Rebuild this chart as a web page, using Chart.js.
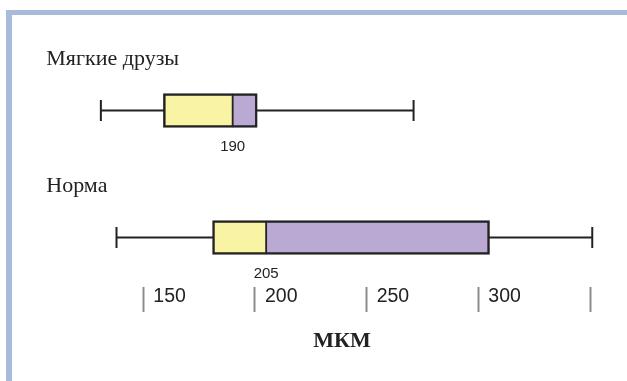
<!DOCTYPE html>
<html lang="ru">
<head>
<meta charset="utf-8">
<title>Толщина волос, мкм</title>
<script src="https://cdn.jsdelivr.net/npm/chart.js@4/dist/chart.umd.min.js"></script>
<style>
  html, body { margin: 0; padding: 0; background: #fff; }
  body { width: 627px; height: 381px; position: relative; overflow: hidden; }
  .frame {
    position: absolute; left: 6px; top: 10px; right: 0; bottom: 0;
    border-top: 5px solid #a9bbda; border-left: 6px solid #a9bbda;
  }
  #chart { position: absolute; left: 0; top: 0; }
</style>
</head>
<body>
<div class="frame"></div>
<canvas id="chart" width="627" height="381"></canvas>
<script>
const groups = ['Мягкие друзы', 'Норма'];
const whiskerLow = [131, 138];
const q1 = [159, 181];
const medians = [190, 205];
const q3 = [201, 305];
const whiskerHigh = [271, 351];
const tickValues = [150, 200, 250, 300, 350];
const tickLabels = ['150', '200', '250', '300', ''];
const axisTitle = 'МКМ';

const ink = '#222';

// whiskers under the boxes, group names and median values as text
const boxDecor = {
    id: 'boxDecor',
    beforeDatasetsDraw(chart) {
        const { ctx, scales: { x, y } } = chart;
        ctx.save();
        ctx.strokeStyle = ink;
        ctx.lineWidth = 2;
        groups.forEach((g, i) => {
            const cy = y.getPixelForValue(i + 1);
            const x0 = x.getPixelForValue(whiskerLow[i]);
            const x1 = x.getPixelForValue(whiskerHigh[i]);
            ctx.beginPath();
            ctx.moveTo(x0, cy);
            ctx.lineTo(x1, cy);
            ctx.moveTo(x0, cy - 10.5);
            ctx.lineTo(x0, cy + 10.5);
            ctx.moveTo(x1, cy - 10.5);
            ctx.lineTo(x1, cy + 10.5);
            ctx.stroke();
        });
        ctx.restore();
    },
    afterDatasetsDraw(chart) {
        const { ctx, chartArea, scales: { x, y } } = chart;
        ctx.save();
        ctx.fillStyle = ink;
        groups.forEach((g, i) => {
            const cy = y.getPixelForValue(i + 1);
            ctx.font = '22px "Liberation Serif", "Times New Roman", serif';
            ctx.textAlign = 'left';
            ctx.textBaseline = 'alphabetic';
            ctx.fillText(g, chartArea.left - 30, cy - 45);

            ctx.font = '15px "Liberation Sans", Arial, sans-serif';
            ctx.textAlign = 'center';
            ctx.fillText(String(medians[i]), x.getPixelForValue(medians[i]), cy + 40.5);
        });
        ctx.restore();
    }
};

new Chart(document.getElementById('chart'), {
    type: 'bar',
    data: {
        datasets: [{
            label: 'Q1 – медиана',
            data: groups.map((g, i) => ({ x: [q1[i], medians[i]], y: i + 1 })),
            backgroundColor: '#f9f4a3',
            borderColor: ink,
            borderWidth: { top: 2.5, bottom: 2.5, left: 2.5, right: 1.25 },
            borderSkipped: false,
            barThickness: 34,
            grouped: false
        }, {
            label: 'медиана – Q3',
            data: groups.map((g, i) => ({ x: [medians[i], q3[i]], y: i + 1 })),
            backgroundColor: '#b9a9d3',
            borderColor: ink,
            borderWidth: { top: 2.5, bottom: 2.5, left: 1.25, right: 2.5 },
            borderSkipped: false,
            barThickness: 34,
            grouped: false
        }]
    },
    options: {
        indexAxis: 'y',
        responsive: false,
        animation: false,
        layout: { padding: { left: 76.3, right: 19.1, top: 47, bottom: 26.8 } },
        plugins: {
            legend: { display: false },
            tooltip: { enabled: false }
        },
        scales: {
            y: {
                type: 'linear',
                min: 0.5,
                max: 2.39,
                reverse: true,
                offset: false,
                display: false
            },
            x: {
                type: 'linear',
                position: 'bottom',
                min: 120,
                max: 358,
                beginAtZero: false,
                afterBuildTicks: axis => { axis.ticks = tickValues.map(v => ({ value: v })); },
                border: { display: false },
                grid: {
                    drawOnChartArea: false,
                    drawTicks: true,
                    tickLength: 25,
                    tickWidth: 2,
                    tickColor: '#8c8c8c'
                },
                ticks: {
                    align: 'start',
                    labelOffset: 10,
                    padding: -27,
                    maxRotation: 0,
                    autoSkip: false,
                    color: ink,
                    font: { family: '"Liberation Sans", Arial, sans-serif', size: 19.5 },
                    callback: (v, i) => tickLabels[i]
                },
                title: {
                    display: true,
                    text: axisTitle,
                    color: ink,
                    font: { family: '"Liberation Serif", "Times New Roman", serif', size: 22, weight: 'bold' },
                    padding: { top: 46.4, bottom: 0 }
                }
            }
        }
    },
    plugins: [boxDecor]
});
</script>
</body>
</html>
